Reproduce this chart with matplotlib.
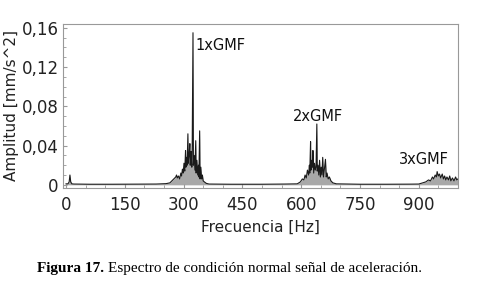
import matplotlib.pyplot as plt
from matplotlib.ticker import MultipleLocator

# spectrum (Hz, mm/s^2)
freq = [0, 5, 8, 10, 12, 15, 20, 60, 120, 180, 230, 255,
        265, 270, 275, 280, 282, 284, 287, 290, 293, 295, 297, 299,
        301, 303, 305, 306, 308, 309, 311, 312, 314, 316, 317, 319,
        321, 322, 324, 325, 327, 329, 331, 332, 334, 336, 338, 339,
        341, 342, 344, 346, 348, 350, 353, 358, 365,
        420, 500, 560, 590, 598, 603, 607, 610, 613, 616, 619, 621,
        622, 624, 625, 627, 629, 630, 632, 634, 636, 638, 640, 641,
        643, 645, 647, 649, 651, 653, 655, 657, 659, 662, 664, 666,
        669, 672, 676, 681, 690,
        750, 820, 880, 900, 910, 918, 925, 930, 935, 938, 942, 945,
        947, 950, 953, 956, 960, 963, 966, 969, 972, 976, 979, 982,
        986, 990, 994, 997, 1000]
amp = [0.001, 0.001, 0.003, 0.010, 0.003, 0.001, 0.0008, 0.0006, 0.0006, 0.0007, 0.0008, 0.0012,
       0.002, 0.004, 0.006, 0.008, 0.010, 0.007, 0.009, 0.006, 0.012, 0.009, 0.016, 0.012,
       0.022, 0.014, 0.035, 0.018, 0.028, 0.020, 0.052, 0.022, 0.030, 0.042, 0.020, 0.034,
       0.018, 0.040, 0.155, 0.020, 0.030, 0.015, 0.045, 0.012, 0.025, 0.010, 0.020, 0.008,
       0.055, 0.006, 0.018, 0.006, 0.010, 0.004, 0.003, 0.0015, 0.0008,
       0.0006, 0.0006, 0.0008, 0.001, 0.003, 0.006, 0.005, 0.010, 0.007, 0.015, 0.010, 0.020,
       0.012, 0.044, 0.015, 0.025, 0.018, 0.035, 0.012, 0.022, 0.015, 0.018, 0.062, 0.014,
       0.020, 0.010, 0.025, 0.008, 0.018, 0.010, 0.028, 0.008, 0.015, 0.026, 0.008, 0.012,
       0.006, 0.008, 0.004, 0.002, 0.001,
       0.0006, 0.0006, 0.0007, 0.0008, 0.002, 0.003, 0.005, 0.004, 0.008, 0.006, 0.010, 0.008,
       0.0135, 0.009, 0.011, 0.007, 0.011, 0.006, 0.009, 0.005, 0.008, 0.005, 0.009, 0.004,
       0.007, 0.004, 0.008, 0.005, 0.006]

xticks = [0, 150, 300, 450, 600, 750, 900]
yticks = [0, 0.04, 0.08, 0.12, 0.16]
ytick_labels = ["0", "0,04", "0,08", "0,12", "0,16"]

labels = ["1xGMF", "2xGMF", "3xGMF"]
label_pos = [(330, 0.142), (580, 0.070), (850, 0.026)]

fig = plt.figure(figsize=(4.8, 2.88), dpi=100)
ax = fig.add_axes([0.131, 0.348, 0.823, 0.569])

ax.fill_between(freq, 0, amp, color="#a8a8a8", lw=0)
ax.plot(freq, amp, color="#1a1a1a", lw=0.8)

ax.set_xlim(-8, 1000)
ax.set_ylim(-0.003, 0.164)
ax.set_xticks(xticks)
ax.set_yticks(yticks)
ax.set_yticklabels(ytick_labels)
ax.xaxis.set_minor_locator(MultipleLocator(50))
ax.yaxis.set_minor_locator(MultipleLocator(0.01))
ax.tick_params(which="both", direction="in", color="#999999", labelsize=12, labelcolor="#222222")
ax.tick_params(which="major", length=3)
ax.tick_params(which="minor", length=2)
ax.tick_params(axis="x", pad=6)
ax.tick_params(axis="y", pad=3)
for s in ax.spines.values():
    s.set_color("#999999")

ax.set_xlabel("Frecuencia [Hz]", fontsize=11, color="#222222", labelpad=4)
ax.set_ylabel("Amplitud [mm/s^2]", fontsize=11, color="#222222", labelpad=2)

for txt, (x, y) in zip(labels, label_pos):
    ax.text(x, y, txt, fontsize=10.5, color="#111111", va="center", ha="left")

# caption below the chart
fig.canvas.draw()
r = fig.canvas.get_renderer()
t1 = fig.text(0.077, 0.069, "Figura 17.", fontsize=11, fontweight="bold",
              family="Liberation Serif", va="center", ha="left")
bb = t1.get_window_extent(r)
fig.text(bb.x1 / fig.bbox.width + 0.008, 0.069,
         "Espectro de condición normal señal de aceleración.",
         fontsize=11, family="Liberation Serif", va="center", ha="left")

fig.savefig("out.png", dpi=100)
